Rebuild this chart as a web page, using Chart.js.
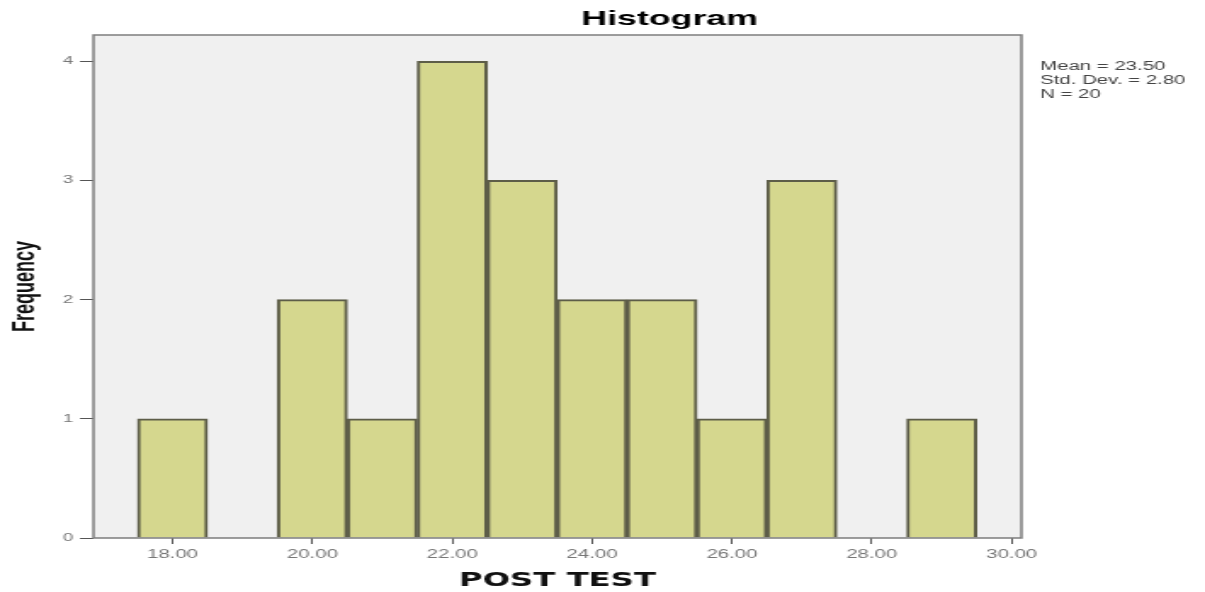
<!DOCTYPE html>
<html>
<head>
<meta charset="utf-8">
<script src="https://cdn.jsdelivr.net/npm/chart.js@4/dist/chart.umd.min.js"></script>
<style>
  body { margin: 0; background: #fff; }
</style>
</head>
<body>
<!-- drawn narrow and stretched by css, like the wide original -->
<canvas id="myChart" width="709" height="592" style="width:1205px;height:592px;display:block"></canvas>
<script>
var bins = [18, 19, 20, 21, 22, 23, 24, 25, 26, 27, 28, 29];
var counts = [1, 0, 2, 1, 4, 3, 2, 2, 1, 3, 0, 1];
var xTicks = [18, 20, 22, 24, 26, 28, 30];
var yTicks = [0, 1, 2, 3, 4];
var stats = ['Mean = 23.50', 'Std. Dev. = 2.80', 'N = 20'];
var chartTitle = 'Histogram';

var paper = {
    id: 'paper',
    beforeDraw: function (chart) {
        var c = chart.ctx, a = chart.chartArea;
        c.save();
        c.fillStyle = '#ffffff';
        c.fillRect(0, 0, chart.width, chart.height);
        c.fillStyle = '#f0f0f0';
        c.fillRect(a.left, a.top, a.right - a.left, a.bottom - a.top);
        c.restore();
    },
    afterDatasetsDraw: function (chart) {
        var c = chart.ctx, a = chart.chartArea;
        c.save();
        c.strokeStyle = '#7d7d7d';
        c.lineWidth = 1.5;
        c.strokeRect(a.left, a.top, a.right - a.left, a.bottom - a.top);
        c.restore();
    },
    afterDraw: function (chart) {
        var c = chart.ctx;
        c.save();
        c.fillStyle = '#000';
        c.textAlign = 'center';
        c.font = 'bold 21px "Liberation Sans", Arial, sans-serif';
        c.fillText(chartTitle, 394, 25);
        c.textAlign = 'left';
        c.fillStyle = '#444';
        c.font = '12px "Liberation Sans", Arial, sans-serif';
        for (var i = 0; i < stats.length; i++) {
            c.fillText(stats[i], 612, 70 + i * 14);
        }
        c.restore();
    }
};

var ctx = document.getElementById('myChart').getContext('2d');
var myChart = new Chart(ctx, {
    type: 'bar',
    data: {
        datasets: [{
            label: 'POST TEST',
            data: bins.map(function (b, i) { return { x: b, y: counts[i] }; }),
            backgroundColor: '#d5d78e',
            borderColor: '#5d5d48',
            borderWidth: 2,
            barPercentage: 1,
            categoryPercentage: 1
        }]
    },
    options: {
        responsive: false,
        animation: false,
        devicePixelRatio: 1,
        layout: { padding: { top: 35, right: 108, bottom: 0, left: 0 } },
        plugins: {
            legend: { display: false },
            tooltip: { enabled: false }
        },
        scales: {
            x: {
                type: 'linear',
                min: 16.87,
                max: 30.14,
                offset: false,
                border: { display: false },
                grid: { offset: false, drawOnChartArea: false, drawTicks: true, tickLength: 6, color: '#555' },
                afterBuildTicks: function (s) { s.ticks = xTicks.map(function (v) { return { value: v }; }); },
                afterFit: function (s) { s.height = 54; },
                ticks: {
                    padding: 3,
                    color: '#777',
                    font: { size: 12, family: '"Liberation Sans", Arial, sans-serif' },
                    callback: function (v) { return Number(v).toFixed(2); }
                },
                title: {
                    display: true,
                    text: 'POST TEST',
                    color: '#111',
                    padding: { top: 0, bottom: 0 },
                    font: { size: 19, weight: 'bold', family: '"DejaVu Sans", sans-serif' }
                }
            },
            y: {
                min: 0,
                max: 4.22,
                border: { display: false },
                grid: { drawOnChartArea: false, drawTicks: true, tickLength: 8, color: '#555' },
                afterBuildTicks: function (s) { s.ticks = yTicks.map(function (v) { return { value: v }; }); },
                afterFit: function (s) { s.width = 55; },
                ticks: {
                    padding: 4,
                    color: '#777',
                    font: { size: 11, family: '"Liberation Sans", Arial, sans-serif' },
                    callback: function (v) { return String(v); }
                },
                title: {
                    display: true,
                    text: 'Frequency',
                    color: '#111',
                    padding: { top: 4, bottom: 0 },
                    font: { size: 18, weight: 'bold', family: '"Liberation Sans", Arial, sans-serif' }
                }
            }
        }
    },
    plugins: [paper]
});
</script>
</body>
</html>
